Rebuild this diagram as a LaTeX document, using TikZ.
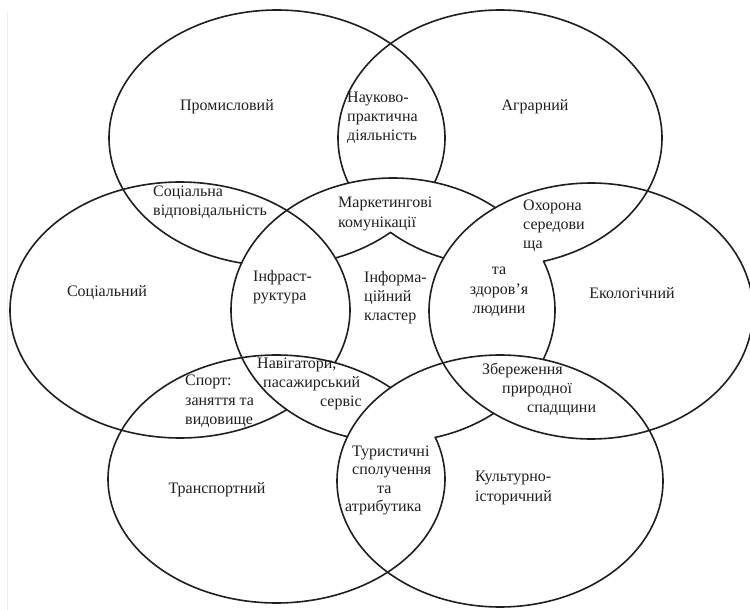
\documentclass[tikz,border=0pt]{standalone}
\usepackage{fontspec}
\setmainfont{Liberation Serif}
\newcommand{\earc}[6]{\draw[ring] plot[domain=#5:#6, samples=220, variable=\t] ({#1+#3*cos(\t)},{#2+#4*sin(\t)});}
\begin{document}
\begin{tikzpicture}[x=1pt,y=-1pt,
  ring/.style={line width=1.6pt, draw=black!88, line cap=round, line join=round},
  lbl/.style={inner sep=0pt, font=\fontsize{16}{19.3}\selectfont, text=black!88},
  edge/.style={draw=black!7, line width=0.8pt}
]
\clip (0,0) rectangle (750,610);
\fill[white] (0,0) rectangle (750,610);
\draw[edge] (7,12) -- (7,610);
% E1 Промисловий
\earc{277}{138}{168}{128}{-257.8}{20.3}
\earc{277}{138}{168}{128}{47.5}{69.7}
% E2 Аграрний
\earc{500}{138}{162}{128}{159.4}{434.4}
\earc{500}{138}{162}{128}{110.4}{132.5}
% E3 Екологічний
\earc{591}{311}{162}{128}{0}{360}
% E4 Культурно-історичний
\earc{500}{481}{163}{126}{0}{360}
% E5 Транспортний
\earc{276.5}{479}{168.5}{124}{-379.6}{-47.4}
% E6 Соціальний
\earc{180}{310}{170}{128}{-308.9}{24.3}
% E0 центральний
\earc{393}{310}{162}{132}{-253.7}{-50.8}
\earc{393}{310}{162}{132}{51.5}{74.9}
\earc{393}{310}{162}{132}{-21.7}{22.0}
% labels
\node[lbl] (prom) at (227,107) {Промисловий};
\node[lbl, anchor=west, align=left] (nauk) at (347,118) {Науково-\\практична\\діяльність};
\node[lbl] (agr) at (535,107) {Аграрний};
\node[lbl, anchor=west, align=left] (socv) at (153,202.5) {Соціальна\\відповідальність};
\node[lbl, anchor=west, align=left] (mark) at (338,214) {Маркетингові\\комунікації};
\node[lbl, anchor=west, align=left] (ohor) at (523,226) {Охорона\\середови\\ща};
\node[lbl, align=center] (zdor) at (499,292) {та\\здоров’я\\людини};
\node[lbl] (soc) at (107,293) {Соціальний};
\node[lbl, anchor=west, align=left] (infr) at (253,287.5) {Інфраст-\\руктура};
\node[lbl, anchor=west, align=left] (info) at (364,297.5) {Інформа-\\ційний\\кластер};
\node[lbl] (eko) at (632,293) {Екологічний};
\node[lbl, anchor=west, align=left] (nav) at (257,384) {Навігатори,\\\hspace*{6pt}пасажирський\\\hspace*{63pt}сервіс};
\node[lbl, anchor=west, align=left] (sport) at (185,401.5) {Спорт:\\заняття та\\видовище};
\node[lbl, anchor=west, align=left] (zber) at (482,389.5) {Збереження\\\hspace*{20pt}природної\\\hspace*{45pt}спадщини};
\node[lbl, anchor=west, align=left, font=\fontsize{16}{18.3}\selectfont] (tur) at (345,480.5) {\hspace*{7pt}Туристичні\\\hspace*{7pt}сполучення\\\hspace*{32pt}та\\атрибутика};
\node[lbl] (trans) at (217,490) {Транспортний};
\node[lbl, anchor=west, align=left] (kult) at (475,488) {Культурно-\\історичний};
\end{tikzpicture}
\end{document}
